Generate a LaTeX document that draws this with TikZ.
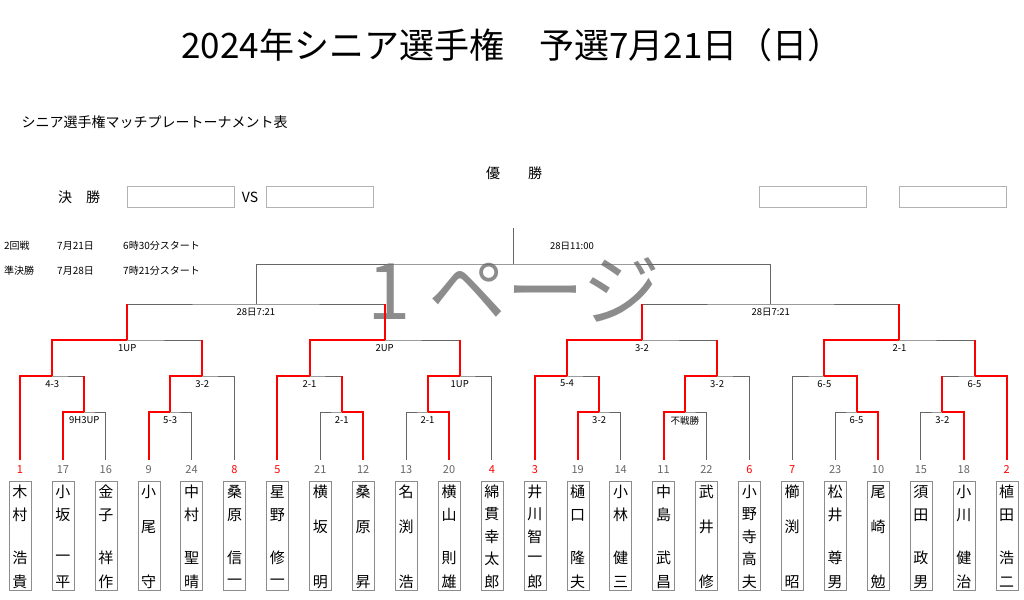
\documentclass[tikz,border=0pt]{standalone}
\usepackage{fontspec}
\setmainfont{Noto Sans CJK JP}
\usetikzlibrary{calc}

\tikzset{
  bracket/.style={draw=black!60,line width=0.9pt},
  win/.style={draw=red,line width=2pt},
  score/.style={font=\fontsize{9.5}{9.5}\selectfont,inner sep=1pt},
  seed/.style={font=\fontsize{11}{11}\selectfont,text=black!60},
  topseed/.style={seed,text=red},
  namebox/.style={draw=black!45,minimum width=22pt,minimum height=109pt,inner sep=0pt},
  ch/.style={font=\fontsize{15}{15}\selectfont,inner sep=0pt},
  blankbox/.style={draw=black!30,minimum width=107pt,minimum height=21pt,inner sep=0pt},
  info/.style={font=\fontsize{10}{10}\selectfont,anchor=west,inner sep=0pt}
}

% one bracket: left, right, height, name, label
\newcommand\match[5]{%
  \coordinate (#4c) at ($(#1)!0.5!(#2)$);
  \coordinate (#4y) at (0,#3);
  \coordinate (#4) at (#4c |- #4y);
  \draw[bracket] (#1) |- (#4) -| (#2);
  \node[score,below=3pt] (#4l) at (#4) {#5};
}

\begin{document}
\begin{tikzpicture}[x=1pt,y=-1pt]
\useasboundingbox (0,0) rectangle (1024,599);

% header
\node[font=\fontsize{35}{35}\selectfont] (title) at (512,45) {2024年シニア選手権　予選7月21日（日）};
\node[font=\fontsize{14}{14}\selectfont,anchor=west] (sub) at (18,122) {シニア選手権マッチプレートーナメント表};
\node[font=\fontsize{14}{14}\selectfont] (champ) at (514,173) {優　　勝};
\node[font=\fontsize{14}{14}\selectfont] (final) at (79,197) {決　勝};
\node[blankbox] (fa) at (180.5,196.5) {};
\node[font=\fontsize{14}{14}\selectfont] (vs) at (250,197) {VS};
\node[blankbox] (fb) at (319.5,196.5) {};
\node[blankbox] (wa) at (812.5,196.5) {};
\node[blankbox] (wb) at (952.5,196.5) {};
\node[info] (r2a) at (4,246) {2回戦};
\node[info] (r2b) at (57,246) {7月21日};
\node[info] (r2c) at (123,246) {6時30分スタート};
\node[info] (sfa) at (4,271) {準決勝};
\node[info] (sfb) at (57,271) {7月28日};
\node[info] (sfc) at (123,271) {7時21分スタート};
\node[font=\fontsize{78}{78}\selectfont,text=black!45] (mark) at (514,290) {1 ページ};

% players
\foreach \i/\s/\st/\nm in {
  0/1/topseed/{木/492,村/515,浩/558,貴/582},
  1/17/seed/{小/492,坂/515,一/558,平/582},
  2/16/seed/{金/492,子/515,祥/558,作/582},
  3/9/seed/{小/492,尾/527,守/582},
  4/24/seed/{中/492,村/515,聖/558,晴/582},
  5/8/topseed/{桑/492,原/515,信/558,一/582},
  6/5/topseed/{星/492,野/515,修/558,一/582},
  7/21/seed/{横/492,坂/527,明/582},
  8/12/seed/{桑/492,原/527,昇/582},
  9/13/seed/{名/492,渕/527,浩/582},
  10/20/seed/{横/492,山/515,則/558,雄/582},
  11/4/topseed/{綿/492,貫/514,幸/537,太/559,郎/582},
  12/3/topseed/{井/492,川/514,智/537,一/559,郎/582},
  13/19/seed/{樋/492,口/515,隆/558,夫/582},
  14/14/seed/{小/492,林/515,健/558,三/582},
  15/11/seed/{中/492,島/515,武/558,昌/582},
  16/22/seed/{武/492,井/527,修/582},
  17/6/topseed/{小/492,野/514,寺/537,高/559,夫/582},
  18/7/topseed/{櫛/492,渕/527,昭/582},
  19/23/seed/{松/492,井/515,尊/558,男/582},
  20/10/seed/{尾/492,崎/527,勉/582},
  21/15/seed/{須/492,田/515,政/558,男/582},
  22/18/seed/{小/492,川/515,健/558,治/582},
  23/2/topseed/{植/492,田/515,浩/558,二/582}}{
  \coordinate (t\i) at ({20+42.9*\i},460);
  \node[\st] (s\i) at ({20+42.9*\i},470) {\s};
  \node[namebox] (b\i) at ({20+42.9*\i},535.5) {};
  \foreach \c/\y in \nm {\node[ch] (c\i-\y) at ({20+42.9*\i},\y) {\c};}
}

% left half
\match{t1}{t2}{412}{a1}{9H3UP}
\match{t0}{a1}{376}{a2}{4-3}
\match{t3}{t4}{412}{b1}{5-3}
\match{b1}{t5}{376}{b2}{3-2}
\match{a2}{b2}{340}{q1}{1UP}
\match{t7}{t8}{412}{c1}{2-1}
\match{t6}{c1}{376}{c2}{2-1}
\match{t9}{t10}{412}{d1}{2-1}
\match{d1}{t11}{376}{d2}{1UP}
\match{c2}{d2}{340}{q2}{2UP}
\match{q1}{q2}{304}{s1}{28日7:21}
% right half
\match{t13}{t14}{412}{e1}{3-2}
\match{t12}{e1}{376}{e2}{5-4}
\match{t15}{t16}{412}{f1}{不戦勝}
\match{f1}{t17}{376}{f2}{3-2}
\match{e2}{f2}{340}{q3}{3-2}
\match{t19}{t20}{412}{g1}{6-5}
\match{t18}{g1}{376}{g2}{6-5}
\match{t21}{t22}{412}{h1}{3-2}
\match{h1}{t23}{376}{h2}{6-5}
\match{g2}{h2}{340}{q4}{2-1}
\match{q3}{q4}{304}{s2}{28日7:21}
% final
\match{s1}{s2}{264}{fn}{}
\coordinate (top) at (512,228);
\draw[bracket] (fn) -- (fn |- top);
\node[score] (fnl) at (572,246) {28日11:00};

% winners
\draw[win] (t1) |- (a1);
\draw[win] (t0) |- (a2);  \draw[win] (a1) -- (a1 |- a2);
\draw[win] (t3) |- (b1);
\draw[win] (b1) |- (b2);
\draw[win] (a2) |- (q1);  \draw[win] (b2) -- (b2 |- q1);
\draw[win] (t8) |- (c1);
\draw[win] (t6) |- (c2);  \draw[win] (c1) -- (c1 |- c2);
\draw[win] (t10) |- (d1);
\draw[win] (d1) |- (d2);
\draw[win] (c2) |- (q2);  \draw[win] (d2) -- (d2 |- q2);
\draw[win] (q1) -- (q1 |- s1);  \draw[win] (q2) -- (q2 |- s1);
\draw[win] (t13) |- (e1);
\draw[win] (t12) |- (e2);  \draw[win] (e1) -- (e1 |- e2);
\draw[win] (t15) |- (f1);
\draw[win] (f1) |- (f2);
\draw[win] (e2) |- (q3);  \draw[win] (f2) -- (f2 |- q3);
\draw[win] (t20) |- (g1);
\draw[win] (g1) |- (g2);
\draw[win] (t22) |- (h1);
\draw[win] (t23) |- (h2);  \draw[win] (h1) -- (h1 |- h2);
\draw[win] (g2) |- (q4);  \draw[win] (h2) -- (h2 |- q4);
\draw[win] (q3) -- (q3 |- s2);  \draw[win] (q4) -- (q4 |- s2);
\end{tikzpicture}
\end{document}
